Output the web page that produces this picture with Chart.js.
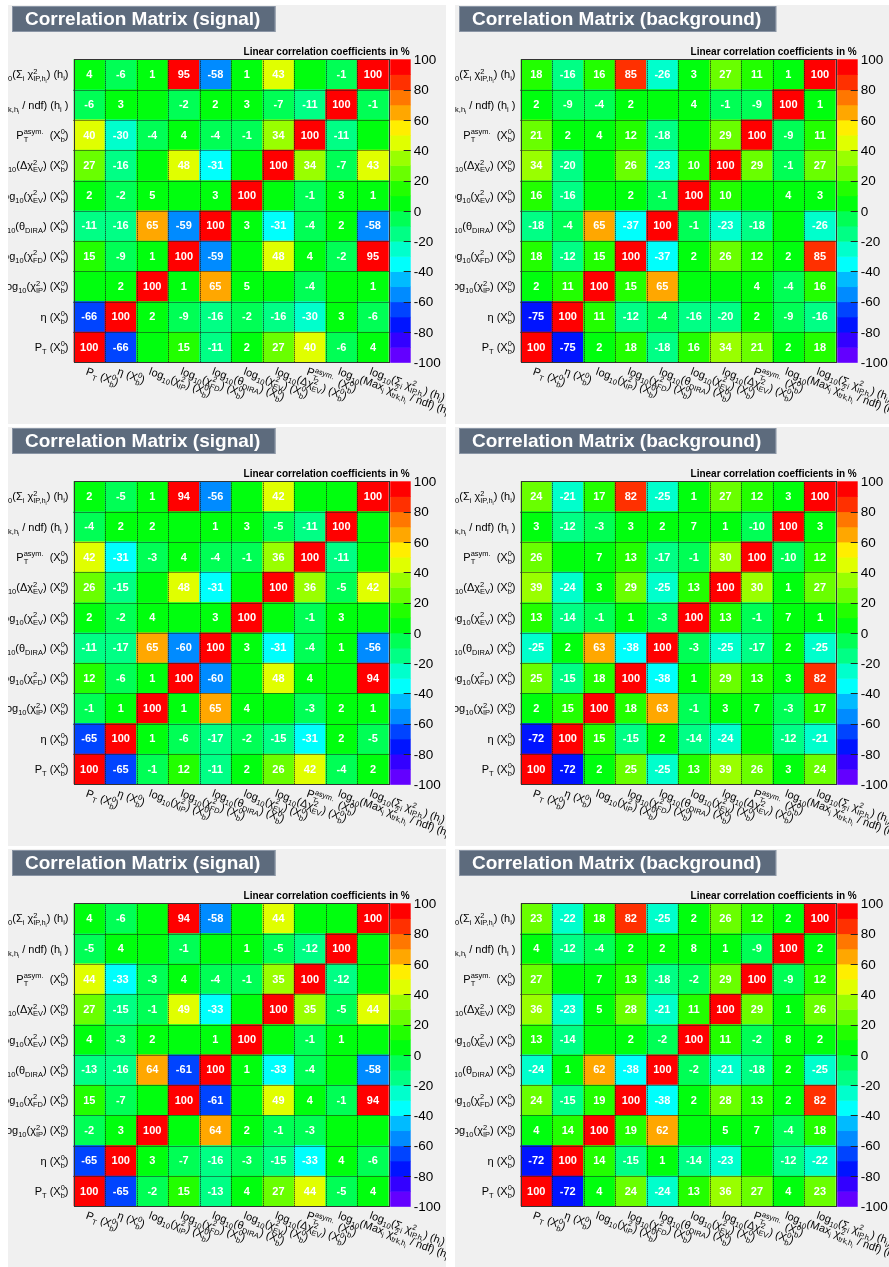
<!DOCTYPE html>
<html><head><meta charset="utf-8">
<script src="https://cdn.jsdelivr.net/npm/chart.js@4.4.0/dist/chart.umd.min.js"></script>
<style>
html,body{margin:0;padding:0;background:#fff;}
#page{position:relative;width:889px;height:1267px;overflow:hidden;background:#fff;}
canvas{position:absolute;background:#f0f0f0;}
</style></head><body><div id="page"></div>
<script>
const FONT = '"Liberation Sans", Arial, Helvetica, sans-serif';

// variable keys (x categories, y rows from bottom to top)
const variables = ['PT','eta','chi2IP','chi2FD','thetaDIRA','chi2EV','dchi2EV','PTasym','maxChi2trk','sumChi2IP'];
// axis tick labels (mini markup: _{sub} ^{sup})
const axisLabels = [
  'P_{T} (X^{0}_{b})',
  'η (X^{0}_{b})',
  'log_{10}(χ^{2}_{IP}) (X^{0}_{b})',
  'log_{10}(χ^{2}_{FD}) (X^{0}_{b})',
  'log_{10}(θ_{DIRA}) (X^{0}_{b})',
  'log_{10}(χ^{2}_{EV}) (X^{0}_{b})',
  'log_{10}(Δχ^{2}_{EV}) (X^{0}_{b})',
  'P^{asym.}_{T}  (X^{0}_{b})',
  'log_{10}(Max_{i} χ^{2}_{trk,h_{i}} / ndf) (h_{i} )',
  'log_{10}(Σ_{i} χ^{2}_{IP,h_{i}}) (h_{i})'
];
const zTicks = [100, 80, 60, 40, 20, 0, -20, -40, -60, -80, -100];
const zLevels = [-100,-90,-80,-70,-60,-50,-40,-30,-20,-10,0,10,20,30,40,50,60,70,80,90,100];
const palette = ['#6300ff','#3300ff','#0014ff','#0044ff','#008bff','#00bbff','#00fffc','#00ffcc','#00ff85','#00ff55',
                 '#00ff0e','#22ff00','#69ff00','#99ff00','#e0ff00','#ffee00','#ffa700','#ff7700','#ff3000','#ff0000'];

// correlation matrices in %, rows listed bottom (PT) to top (sumChi2IP)
const signalTop = [
  [100,-66,0,15,-11,2,27,40,-6,4],
  [-66,100,2,-9,-16,-2,-16,-30,3,-6],
  [0,2,100,1,65,5,0,-4,0,1],
  [15,-9,1,100,-59,0,48,4,-2,95],
  [-11,-16,65,-59,100,3,-31,-4,2,-58],
  [2,-2,5,0,3,100,0,-1,3,1],
  [27,-16,0,48,-31,0,100,34,-7,43],
  [40,-30,-4,4,-4,-1,34,100,-11,0],
  [-6,3,0,-2,2,3,-7,-11,100,-1],
  [4,-6,1,95,-58,1,43,0,-1,100]
];
const backgroundTop = [
  [100,-75,2,18,-18,16,34,21,2,18],
  [-75,100,11,-12,-4,-16,-20,2,-9,-16],
  [2,11,100,15,65,0,0,4,-4,16],
  [18,-12,15,100,-37,2,26,12,2,85],
  [-18,-4,65,-37,100,-1,-23,-18,0,-26],
  [16,-16,0,2,-1,100,10,0,4,3],
  [34,-20,0,26,-23,10,100,29,-1,27],
  [21,2,4,12,-18,0,29,100,-9,11],
  [2,-9,-4,2,0,4,-1,-9,100,1],
  [18,-16,16,85,-26,3,27,11,1,100]
];
const signalMid = [
  [100,-65,-1,12,-11,2,26,42,-4,2],
  [-65,100,1,-6,-17,-2,-15,-31,2,-5],
  [-1,1,100,1,65,4,0,-3,2,1],
  [12,-6,1,100,-60,0,48,4,0,94],
  [-11,-17,65,-60,100,3,-31,-4,1,-56],
  [2,-2,4,0,3,100,0,-1,3,0],
  [26,-15,0,48,-31,0,100,36,-5,42],
  [42,-31,-3,4,-4,-1,36,100,-11,0],
  [-4,2,2,0,1,3,-5,-11,100,0],
  [2,-5,1,94,-56,0,42,0,0,100]
];
const backgroundMid = [
  [100,-72,2,25,-25,13,39,26,3,24],
  [-72,100,15,-15,2,-14,-24,0,-12,-21],
  [2,15,100,18,63,-1,3,7,-3,17],
  [25,-15,18,100,-38,1,29,13,3,82],
  [-25,2,63,-38,100,-3,-25,-17,2,-25],
  [13,-14,-1,1,-3,100,13,-1,7,1],
  [39,-24,3,29,-25,13,100,30,1,27],
  [26,0,7,13,-17,-1,30,100,-10,12],
  [3,-12,-3,3,2,7,1,-10,100,3],
  [24,-21,17,82,-25,1,27,12,3,100]
];
const signalBot = [
  [100,-65,-2,15,-13,4,27,44,-5,4],
  [-65,100,3,-7,-16,-3,-15,-33,4,-6],
  [-2,3,100,0,64,2,-1,-3,0,0],
  [15,-7,0,100,-61,0,49,4,-1,94],
  [-13,-16,64,-61,100,1,-33,-4,0,-58],
  [4,-3,2,0,1,100,0,-1,1,0],
  [27,-15,-1,49,-33,0,100,35,-5,44],
  [44,-33,-3,4,-4,-1,35,100,-12,0],
  [-5,4,0,-1,0,1,-5,-12,100,0],
  [4,-6,0,94,-58,0,44,0,0,100]
];
const backgroundBot = [
  [100,-72,4,24,-24,13,36,27,4,23],
  [-72,100,14,-15,1,-14,-23,0,-12,-22],
  [4,14,100,19,62,0,5,7,-4,18],
  [24,-15,19,100,-38,2,28,13,2,82],
  [-24,1,62,-38,100,-2,-21,-18,2,-25],
  [13,-14,0,2,-2,100,11,-2,8,2],
  [36,-23,5,28,-21,11,100,29,1,26],
  [27,0,7,13,-18,-2,29,100,-9,12],
  [4,-12,-4,2,2,8,1,-9,100,2],
  [23,-22,18,82,-25,2,26,12,2,100]
];

const panels = [
  {title:'Correlation Matrix (signal)', matrix: signalTop, left: 8, top: 5, width: 438},
  {title:'Correlation Matrix (background)', matrix: backgroundTop, left: 455, top: 5, width: 434},
  {title:'Correlation Matrix (signal)', matrix: signalMid, left: 8, top: 427, width: 438},
  {title:'Correlation Matrix (background)', matrix: backgroundMid, left: 455, top: 427, width: 434},
  {title:'Correlation Matrix (signal)', matrix: signalBot, left: 8, top: 849, width: 438},
  {title:'Correlation Matrix (background)', matrix: backgroundBot, left: 455, top: 849, width: 434}
];
const PANEL_H = 419;

function colorFor(v) {
  let k = 0;
  for (let i = 0; i < zLevels.length - 1; i++) if (v >= zLevels[i]) k = i;
  return palette[k];
}

// rich text: returns width; draws if draw==true
function rich(ctx, str, x, y, size, draw) {
  let i = 0, cx = x, buf = '';
  const flush = () => {
    if (!buf) return;
    ctx.font = size + 'px ' + FONT;
    if (draw) ctx.fillText(buf, cx, y);
    cx += ctx.measureText(buf).width;
    buf = '';
  };
  const grab = (j) => {
    let depth = 0, k = j;
    for (; k < str.length; k++) {
      if (str[k] === '{') depth++;
      else if (str[k] === '}') { depth--; if (depth === 0) break; }
    }
    return [str.slice(j + 1, k), k + 1];
  };
  while (i < str.length) {
    const c = str[i];
    if ((c === '_' || c === '^') && str[i + 1] === '{') {
      flush();
      let [inner, ni] = grab(i + 1);
      let sub = null, sup = null;
      if (c === '_') sub = inner; else sup = inner;
      if ((str[ni] === '_' || str[ni] === '^') && str[ni] !== c && str[ni + 1] === '{') {
        const r2 = grab(ni + 1);
        if (str[ni] === '_') sub = r2[0]; else sup = r2[0];
        ni = r2[1];
      }
      const s2 = size * 0.68;
      let w = 0;
      if (sup !== null) w = Math.max(w, rich(ctx, sup, cx, y - size * 0.42, s2, draw));
      if (sub !== null) w = Math.max(w, rich(ctx, sub, cx, y + size * 0.28, s2, draw));
      cx += w;
      i = ni;
    } else { buf += c; i++; }
  }
  flush();
  return cx - x;
}

const decor = {
  id: 'decor',
  afterDatasetsDraw(chart, args, opts) {
    const ctx = chart.ctx, area = chart.chartArea;
    const xs = chart.scales.x, ys = chart.scales.y;
    const m = opts.matrix;
    // grid (dotted)
    ctx.save();
    ctx.strokeStyle = '#1a1a1a';
    ctx.lineWidth = 1;
    ctx.setLineDash([1, 1]);
    for (let c = 0; c < variables.length - 1; c++) {
      const bx = Math.round((xs.getPixelForValue(c) + xs.getPixelForValue(c + 1)) / 2) + 0.5;
      ctx.beginPath(); ctx.moveTo(bx, area.top); ctx.lineTo(bx, area.bottom); ctx.stroke();
    }
    for (let r = 1; r < variables.length; r++) {
      const by = Math.round(ys.getPixelForValue(r)) + 0.5;
      ctx.beginPath(); ctx.moveTo(area.left, by); ctx.lineTo(area.right, by); ctx.stroke();
    }
    ctx.setLineDash([]);
    ctx.strokeStyle = '#333';
    ctx.strokeRect(Math.round(area.left) + 0.5, Math.round(area.top) + 0.5,
                   Math.round(area.right - area.left), Math.round(area.bottom - area.top));
    // cell values
    ctx.fillStyle = '#ffffff';
    ctx.font = 'bold 11px ' + FONT;
    ctx.textAlign = 'center';
    ctx.textBaseline = 'middle';
    chart.data.datasets.forEach((ds, r) => {
      const meta = chart.getDatasetMeta(r);
      meta.data.forEach((el, c) => {
        const v = m[r][c];
        if (v === 0) return;
        ctx.fillText(String(v), el.x, (el.y + el.base) / 2 + 0.5);
      });
    });
    ctx.restore();
  },
  afterDraw(chart, args, opts) {
    const ctx = chart.ctx, area = chart.chartArea;
    const xs = chart.scales.x, ys = chart.scales.y, zs = chart.scales.z;
    ctx.save();
    // colour bar
    const cbL = area.right + 1.5, cbW = 20.5;
    for (let k = 0; k < palette.length; k++) {
      const y1 = zs.getPixelForValue(zLevels[k]);
      const y2 = zs.getPixelForValue(zLevels[k + 1]);
      ctx.fillStyle = palette[k];
      ctx.fillRect(cbL, y2, cbW, y1 - y2 + 0.5);
    }
    ctx.strokeStyle = '#222';
    ctx.lineWidth = 1;
    ctx.fillStyle = '#000';
    ctx.font = '13.5px ' + FONT;
    ctx.textAlign = 'left';
    ctx.textBaseline = 'middle';
    zTicks.forEach(t => {
      const y = Math.round(zs.getPixelForValue(t)) + 0.5;
      if (t !== 100 && t !== -100) {
        ctx.beginPath(); ctx.moveTo(cbL + cbW - 7, y); ctx.lineTo(cbL + cbW, y); ctx.stroke();
      }
      ctx.fillText(String(t), cbL + cbW + 3, zs.getPixelForValue(t) + 1);
    });
    // z axis caption
    ctx.font = 'bold 10px ' + FONT;
    ctx.textAlign = 'right';
    ctx.textBaseline = 'middle';
    ctx.fillText('Linear correlation coefficients in %', cbL + cbW - 1, area.top - 7);
    // y labels
    ctx.fillStyle = '#000';
    ctx.textAlign = 'left';
    ctx.textBaseline = 'alphabetic';
    const fs = 11;
    axisLabels.forEach((lab, r) => {
      const yc = (ys.getPixelForValue(r) + ys.getPixelForValue(r + 1)) / 2;
      const w = rich(ctx, lab, 0, 0, fs, false);
      rich(ctx, lab, area.left - 5 - w, yc + fs * 0.35, fs, true);
    });
    // x labels (rotated)
    axisLabels.forEach((lab, c) => {
      ctx.save();
      ctx.translate(xs.getPixelForValue(c) - 1, area.bottom + 4);
      ctx.rotate(20 * Math.PI / 180);
      rich(ctx, lab, 0, fs * 0.78, fs, true);
      ctx.restore();
    });
    // title box
    ctx.font = 'bold 19px ' + FONT;
    const tw = ctx.measureText(opts.title).width;
    ctx.fillStyle = '#5d6b7d';
    ctx.fillRect(4, 1, tw + 28, 26);
    ctx.strokeStyle = '#8a95a5';
    ctx.strokeRect(4.5, 1.5, tw + 27, 25);
    ctx.fillStyle = '#ffffff';
    ctx.textAlign = 'left';
    ctx.textBaseline = 'middle';
    ctx.fillText(opts.title, 17, 14.5);
    ctx.restore();
  }
};

const page = document.getElementById('page');
panels.forEach(p => {
  const cv = document.createElement('canvas');
  cv.width = p.width; cv.height = PANEL_H;
  cv.style.left = p.left + 'px'; cv.style.top = p.top + 'px';
  cv.style.width = p.width + 'px'; cv.style.height = PANEL_H + 'px';
  page.appendChild(cv);
  new Chart(cv, {
    type: 'bar',
    data: {
      labels: variables,
      datasets: variables.map((name, r) => ({
        label: name,
        data: variables.map(() => [r, r + 1]),
        backgroundColor: p.matrix[r].map(colorFor),
        grouped: false,
        barPercentage: 1,
        categoryPercentage: 1,
        borderWidth: 0
      }))
    },
    options: {
      responsive: false,
      animation: false,
      devicePixelRatio: 1,
      layout: { padding: { left: 65.5, top: 54.3, right: p.width - 380.7, bottom: PANEL_H - 357.3 } },
      plugins: {
        legend: { display: false },
        tooltip: { enabled: false },
        decor: { matrix: p.matrix, title: p.title }
      },
      scales: {
        x: { display: false, offset: true },
        y: { display: false, min: 0, max: 10 },
        z: { display: false, type: 'linear', position: 'right', min: -100, max: 100 }
      }
    },
    plugins: [decor]
  });
});
</script></body></html>
